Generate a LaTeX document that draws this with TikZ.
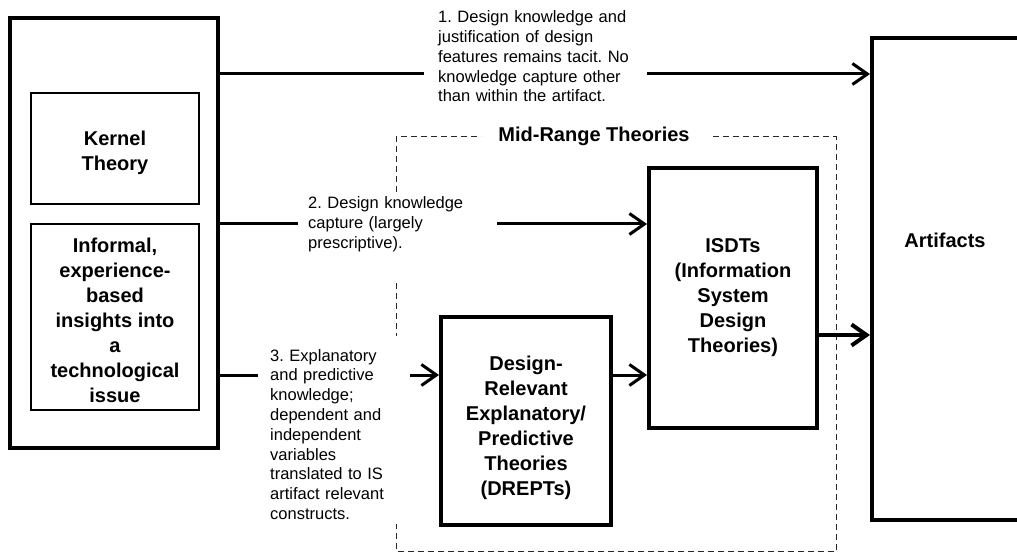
\documentclass[tikz,border=0pt]{standalone}
\usepackage{fontspec}
\setmainfont{Liberation Sans}
\frenchspacing
\usetikzlibrary{arrows.meta}
\begin{document}
\begin{tikzpicture}[x=1pt,y=-1pt,
  heavybox/.style={draw, line width=4pt, inner sep=0pt},
  thinbox/.style={draw, line width=1.2pt, inner sep=0pt},
  boldtext/.style={font=\fontsize{20}{25}\selectfont\bfseries, align=center},
  labeltext/.style={font=\fontsize{16.5}{19.8}\selectfont, align=left, fill=white, inner ysep=4pt},
  arr/.style={line width=3pt, -{Straight Barb[length=15pt,width=21pt]}},
  midbox/.style={dash pattern=on 6pt off 4pt, line width=1pt, draw=black!85}]
\clip (0,0) rectangle (1017,553);
\fill[white] (0,0) rectangle (1017,553);

% mid-range theories dashed frame
\draw[midbox] (396,192) -- (396,137) -- (481,137);
\draw[midbox] (713,137) -- (836,137) -- (836,551.5) -- (396,551.5) -- (396,522);
\draw[midbox] (396,283) -- (396,336);
\node[boldtext] (mid) at (594,136) {Mid-Range Theories};

% boxes
\node[heavybox, minimum width=208pt, minimum height=430pt] (outer) at (114,233) {};
\node[thinbox, minimum width=168pt, minimum height=111pt,
  label={[boldtext, yshift=-4pt]center:Kernel\\Theory}] (kernel) at (115,148.5) {};
\node[thinbox, minimum width=168pt, minimum height=186pt,
  label={[boldtext, yshift=-3pt]center:Informal,\\experience-\\based\\insights into\\a\\technological\\issue}] (informal) at (115,317) {};
\node[heavybox, minimum width=170pt, minimum height=482pt] (art) at (957,279) {};
\node[boldtext] (artlbl) at (945,240) {Artifacts};
\node[heavybox, boldtext, minimum width=168pt, minimum height=260pt] (isdt) at (733,298) {ISDTs\\(Information\\System\\Design\\Theories)};
\node[heavybox, minimum width=170pt, minimum height=208pt,
  label={[boldtext, yshift=-7pt]center:Design-\\Relevant\\Explanatory/\\Predictive\\Theories\\(DREPTs)}] (drept) at (526,421) {};

% arrows
\path (0,74) coordinate (y1) (0,224) coordinate (y2) (0,375) coordinate (y3) (0,335) coordinate (y4);
\coordinate (s1) at (outer.east |- y1);
\coordinate (s2) at (outer.east |- y2);
\coordinate (s3) at (outer.east |- y3);
\coordinate (s4) at (isdt.east |- y4);
\coordinate (s5) at (drept.east |- y3);
\draw[arr] (s1) -- (s1 -| art.west);
\draw[arr] (s2) -- (s2 -| isdt.west);
\draw[arr] (s3) -- (s3 -| drept.west);
\draw[arr] (s5) -- (s5 -| isdt.west);
\draw[arr, line width=4pt] (s4) -- (s4 -| art.west);

% labels
\node[labeltext, anchor=west, inner xsep=14pt, text width=195pt] (lab1) at (424,56.5)
  {1. Design knowledge and\\justification of design\\features remains tacit. No\\knowledge capture other\\than within the artifact.};
\node[labeltext, anchor=west, inner xsep=10pt, text width=179pt] (lab2) at (298,224.5)
  {2. Design knowledge\\capture (largely\\prescriptive).};
\node[labeltext, anchor=west, inner xsep=12pt, text width=128pt] (lab3) at (258,434.5)
  {3. Explanatory\\and predictive\\knowledge;\\dependent and\\independent\\variables\\translated to IS\\artifact relevant\\constructs.};
\end{tikzpicture}
\end{document}
